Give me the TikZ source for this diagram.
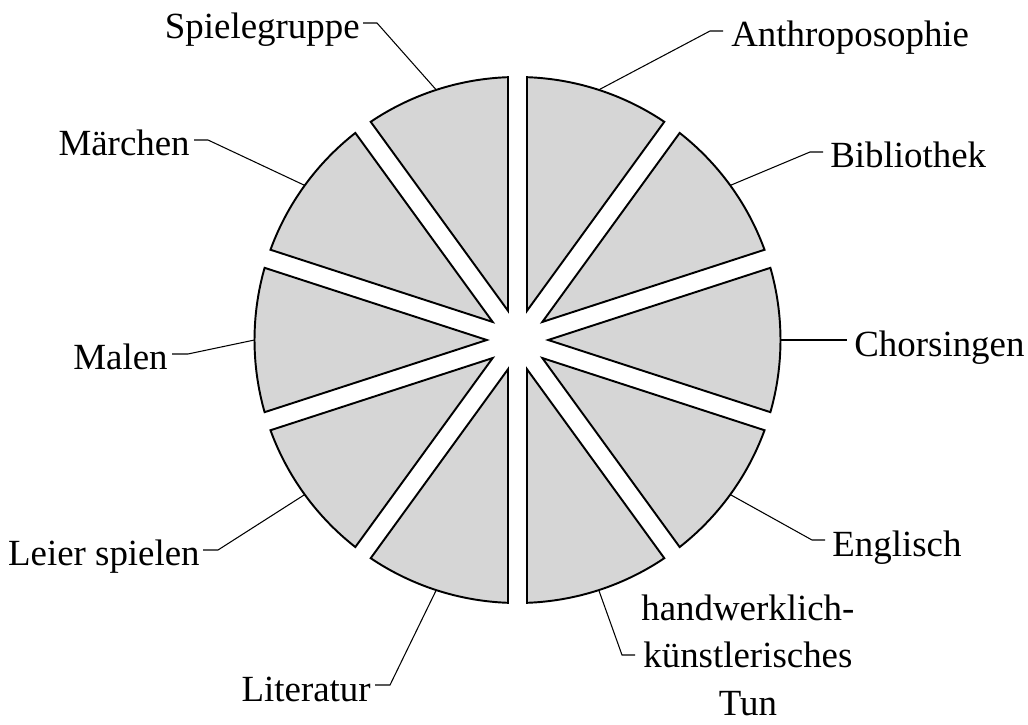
\documentclass[tikz,border=0pt]{standalone}
\usepackage{fontspec}
\setmainfont{Liberation Serif}
\usetikzlibrary{calc}
\tikzset{
	slice/.style={draw=black, line width=1.1pt, fill=black!16, line join=miter},
	leader/.style={draw=black, line width=0.6pt},
	lbl/.style={font=\fontsize{21}{27}\selectfont, inner sep=0pt},
}
\begin{document}
\begin{tikzpicture}[x=0.02cm, y=0.02cm]
	\useasboundingbox (0,0) rectangle (1028,724);
	\coordinate (O) at (517.5,384);
	% ten slices of 36 degrees, pulled apart by a constant gap
	\foreach \c/\n in {72/anth, 36/bibl, 0/chor, -36/engl, -72/hand, -108/lite, -144/leie, 180/male, 144/maer, 108/spie} {
		\draw[slice] ($(O)+(\c:30.7)$) -- ($(O)+(\c-15.93:263)$) arc[start angle=\c-15.93, end angle=\c+15.93, radius=263] -- cycle;
		\coordinate (p\n) at ($(O)+(\c:263)$);
	}
	% leaders: slice -> knee -> short horizontal end
	\foreach \n/\kx/\ky/\ex in {anth/710/693/723, bibl/810/572/823, engl/812/184/825, hand/622/69/635, lite/390/39/375, leie/218/174/203, male/188/370/172, maer/208/584/194, spie/377/701/363} {
		\coordinate (k\n) at (\kx,\ky);
		\coordinate (e\n) at (\ex,\ky);
		\draw[leader] (p\n) -- (k\n) -- (e\n);
	}
	\coordinate (echor) at (847,384);
	\draw[leader] (pchor) -- (echor);
	% labels
	\node[lbl, anchor=base west] (tanth) at ($(eanth)+(8,-16)$) {Anthroposophie};
	\node[lbl, anchor=base west] (tbibl) at ($(ebibl)+(7,-16)$) {Bibliothek};
	\node[lbl, anchor=base west] (tchor) at ($(echor)+(7,-17)$) {Chorsingen};
	\node[lbl, anchor=base west] (tengl) at ($(eengl)+(7,-16)$) {Englisch};
	\node[lbl, anchor=west, align=center] (thand) at ($(ehand)+(6,0)$) {handwerklich-\\künstlerisches\\Tun};
	\node[lbl, anchor=base east] (tlite) at ($(elite)+(-4,-16)$) {Literatur};
	\node[lbl, anchor=base east] (tleie) at ($(eleie)+(-3,-16)$) {Leier spielen};
	\node[lbl, anchor=base east] (tmale) at ($(emale)+(-4,-16)$) {Malen};
	\node[lbl, anchor=base east] (tmaer) at ($(emaer)+(-4,-16)$) {Märchen};
	\node[lbl, anchor=base east] (tspie) at ($(espie)+(-3,-16)$) {Spielegruppe};
\end{tikzpicture}
\end{document}
